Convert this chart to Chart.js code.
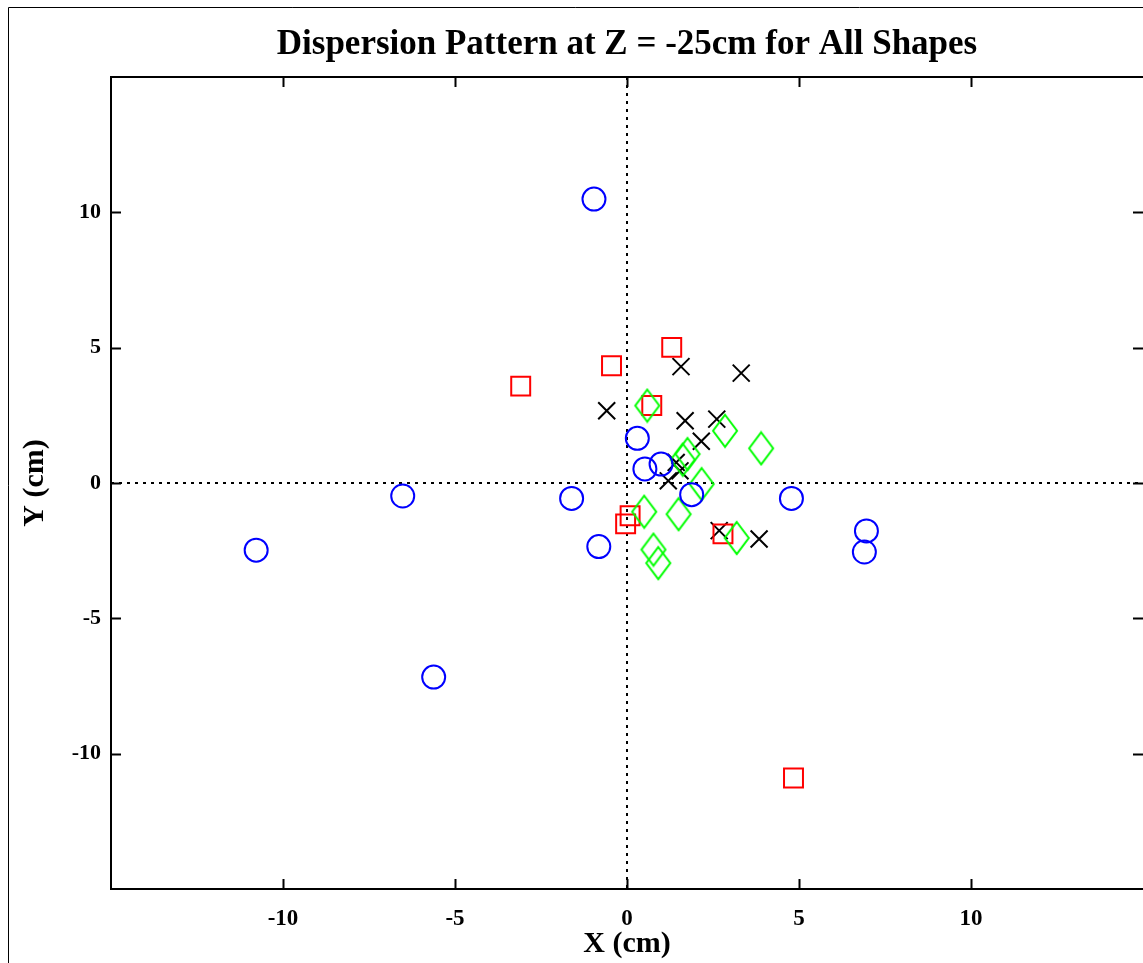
<!DOCTYPE html>
<html>
<head>
<meta charset="utf-8">
<script src="https://cdn.jsdelivr.net/npm/chart.js@4.4.1/dist/chart.umd.min.js"></script>
<style>
  html, body { margin: 0; padding: 0; background: #fff; }
  canvas { display: block; }
</style>
</head>
<body>
<canvas id="grafico" width="1143" height="963"></canvas>
<script>
// valores (cm)
const circuloX = [-0.96, 0.30, 0.52, 0.99, 1.88, -1.61, 4.78, -0.82, -6.52, -10.78, -5.62, 6.96, 6.90];
const circuloY = [10.49, 1.65, 0.52, 0.70, -0.43, -0.57, -0.57, -2.35, -0.48, -2.48, -7.17, -1.77, -2.55];

const quadradoX = [1.30, -0.45, -3.09, 0.72, 0.09, -0.04, 2.79, 4.84];
const quadradoY = [5.01, 4.33, 3.58, 2.86, -1.21, -1.51, -1.88, -10.9];

const xisX = [1.57, 3.32, -0.59, 1.69, 2.61, 2.16, 1.43, 1.54, 1.20, 2.68, 3.84];
const xisY = [4.30, 4.06, 2.67, 2.30, 2.36, 1.54, 0.76, 0.45, 0.08, -1.76, -2.07];

const losangoX = [0.59, 2.85, 3.90, 1.62, 1.76, 2.17, 0.50, 1.50, 3.19, 0.77, 0.91];
const losangoY = [2.86, 1.93, 1.28, 0.86, 1.07, -0.04, -1.06, -1.15, -2.03, -2.46, -2.96];

const ticksValores = [-10, -5, 0, 5, 10];

function pontos(xs, ys) {
  return xs.map((x, i) => ({ x: x, y: ys[i] }));
}

// losango mais alto que largo, desenhado num canvas pequeno
function criaLosango() {
  const c = document.createElement('canvas');
  c.width = 28;
  c.height = 36;
  const g = c.getContext('2d');
  g.strokeStyle = '#00ff00';
  g.lineWidth = 2;
  g.beginPath();
  g.moveTo(14, 2);
  g.lineTo(26, 18);
  g.lineTo(14, 34);
  g.lineTo(2, 18);
  g.closePath();
  g.stroke();
  return c;
}

const fonteSerif = '"Liberation Serif", "Times New Roman", serif';

// moldura, caixa do gráfico e ticks internos
const molduraPlugin = {
  id: 'moldura',
  beforeDraw(chart) {
    const ctx = chart.ctx;
    ctx.save();
    ctx.fillStyle = '#fff';
    ctx.fillRect(0, 0, chart.width, chart.height);
    ctx.strokeStyle = '#000';
    ctx.lineWidth = 1;
    ctx.beginPath();
    ctx.moveTo(8.5, chart.height);
    ctx.lineTo(8.5, 7.5);
    ctx.lineTo(chart.width, 7.5);
    ctx.stroke();
    ctx.restore();
  },
  afterDraw(chart) {
    const ctx = chart.ctx;
    const a = chart.chartArea;
    const sx = chart.scales.x;
    const sy = chart.scales.y;
    ctx.save();
    ctx.strokeStyle = '#000';
    ctx.lineWidth = 2;
    // a borda direita fica fora da imagem
    ctx.beginPath();
    ctx.moveTo(a.right, a.top);
    ctx.lineTo(a.left, a.top);
    ctx.lineTo(a.left, a.bottom);
    ctx.lineTo(a.right, a.bottom);
    ctx.stroke();
    const tam = 10;
    ctx.beginPath();
    ticksValores.forEach(v => {
      const px = Math.round(sx.getPixelForValue(v)) + 0.5;
      ctx.moveTo(px, a.bottom);
      ctx.lineTo(px, a.bottom - tam);
      ctx.moveTo(px, a.top);
      ctx.lineTo(px, a.top + tam);
      const py = Math.round(sy.getPixelForValue(v)) + 0.5;
      ctx.moveTo(a.left, py);
      ctx.lineTo(a.left + tam, py);
      ctx.moveTo(a.right, py);
      ctx.lineTo(a.right - tam, py);
    });
    ctx.stroke();
    ctx.restore();
  }
};

// só a linha do zero fica visível, pontilhada
function gradeZero(comprTick) {
  return {
    drawTicks: true,
    tickLength: comprTick,
    tickColor: 'transparent',
    lineWidth: 2,
    color: c => (c.tick && c.tick.value === 0 ? '#000' : 'transparent')
  };
}

const ctx = document.getElementById('grafico').getContext('2d');
new Chart(ctx, {
  type: 'scatter',
  data: {
    datasets: [
      {
        label: 'círculo',
        data: pontos(circuloX, circuloY),
        pointStyle: 'circle',
        pointRadius: 11.5,
        borderColor: '#0000ff',
        backgroundColor: 'transparent',
        pointBorderWidth: 2
      },
      {
        label: 'losango',
        data: pontos(losangoX, losangoY),
        pointStyle: criaLosango(),
        pointRadius: 16,
        borderColor: '#00ff00',
        backgroundColor: 'transparent'
      },
      {
        label: 'quadrado',
        data: pontos(quadradoX, quadradoY),
        pointStyle: 'rect',
        pointRadius: 13.4,
        borderColor: '#ff0000',
        backgroundColor: 'transparent',
        pointBorderWidth: 2
      },
      {
        label: 'xis',
        data: pontos(xisX, xisY),
        pointStyle: 'crossRot',
        pointRadius: 12,
        borderColor: '#000',
        backgroundColor: 'transparent',
        pointBorderWidth: 2
      }
    ]
  },
  options: {
    responsive: false,
    devicePixelRatio: 1,
    animation: false,
    events: [],
    layout: { autoPadding: false, padding: { left: 0, right: 0, top: 0, bottom: 0 } },
    plugins: {
      legend: { display: false },
      tooltip: { enabled: false },
      title: {
        display: true,
        fullSize: false,
        text: 'Dispersion Pattern at Z = -25cm for All Shapes',
        color: '#000',
        font: { family: fonteSerif, size: 35, weight: 'bold' },
        padding: { top: 24, bottom: 11 }
      }
    },
    scales: {
      x: {
        type: 'linear',
        min: -15,
        max: 15,
        border: { display: false, dash: [3, 5] },
        grid: gradeZero(16),
        afterBuildTicks: s => { s.ticks = ticksValores.map(v => ({ value: v })); },
        afterFit: s => { s.height = 74; },
        ticks: {
          color: '#000',
          padding: 0,
          maxRotation: 0,
          font: { family: fonteSerif, size: 23, weight: 'bold' }
        },
        title: {
          display: true,
          text: 'X (cm)',
          color: '#000',
          font: { family: fonteSerif, size: 30, weight: 'bold' },
          padding: { top: 0, bottom: 1 }
        }
      },
      y: {
        type: 'linear',
        min: -15,
        max: 15,
        border: { display: false, dash: [3, 5] },
        grid: gradeZero(10),
        afterBuildTicks: s => { s.ticks = ticksValores.map(v => ({ value: v })); },
        afterFit: s => { s.width = 111; },
        ticks: {
          color: '#000',
          padding: 0,
          font: { family: fonteSerif, size: 22, weight: 'bold' }
        },
        title: {
          display: true,
          text: 'Y (cm)',
          color: '#000',
          font: { family: fonteSerif, size: 30, weight: 'bold' },
          padding: { top: 17, bottom: 0 }
        }
      }
    }
  },
  plugins: [molduraPlugin]
});
</script>
</body>
</html>
